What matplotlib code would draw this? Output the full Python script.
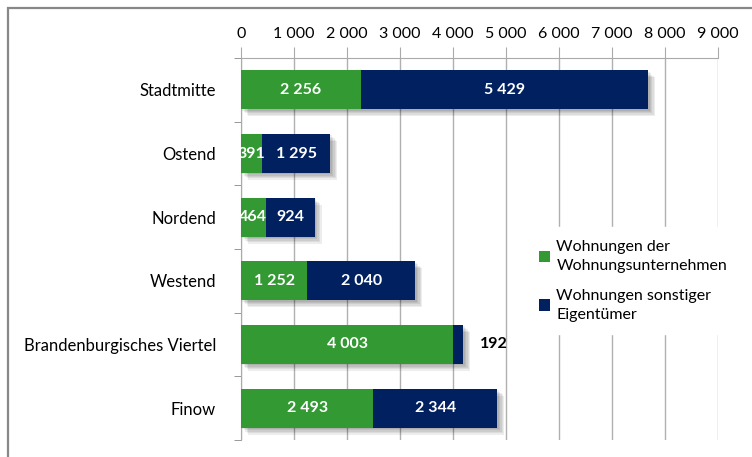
import numpy as np
import matplotlib.pyplot as plt
import matplotlib.patheffects as pe
from matplotlib.patches import Rectangle
from matplotlib.ticker import FuncFormatter

plt.rcParams['font.family'] = ['Lato', 'DejaVu Sans']

districts = ["Stadtmitte", "Ostend", "Nordend", "Westend",
             "Brandenburgisches Viertel", "Finow"]
unternehmen = [2256, 391, 464, 1252, 4003, 2493]
sonstige = [5429, 1295, 924, 2040, 192, 2344]
series_names = ["Wohnungen der\nWohnungsunternehmen",
                "Wohnungen sonstiger\nEigentümer"]

green = "#339933"
navy = "#002060"

def fmt(v):
    return f"{v:,.0f}".replace(",", " ")

fig = plt.figure(figsize=(7.52, 4.57), dpi=100)
ax = fig.add_axes([241 / 752, 1 - 440 / 457, 477 / 752, 382 / 457])

y = np.arange(len(districts))
ax.barh(y, unternehmen, height=0.61, color=green, label=series_names[0], zorder=3)
ax.barh(y, sonstige, left=unternehmen, height=0.61, color=navy, label=series_names[1], zorder=3)

# soft drop shadow under each stacked bar
soft = [pe.SimplePatchShadow(offset=(d, -d), shadow_rgbFace="#000000", alpha=0.07)
        for d in (1, 2, 3, 4, 5)]
for i in range(len(districts)):
    tot = unternehmen[i] + sonstige[i]
    r = Rectangle((0, y[i] - 0.305), tot, 0.61, facecolor="white", edgecolor="none", zorder=2)
    ax.add_patch(r)
    r.set_path_effects(soft)

for i in range(len(districts)):
    u, s = unternehmen[i], sonstige[i]
    ax.text(u / 2, y[i], fmt(u), ha="center", va="center", color="white",
            fontsize=11.5, fontweight="bold", zorder=4)
    if s < 500 and u > 1000:
        ax.text(u + s + 320, y[i], fmt(s), ha="left", va="center", color="black",
                fontsize=11.5, fontweight="bold", zorder=4)
    else:
        ax.text(u + s / 2, y[i], fmt(s), ha="center", va="center", color="white",
                fontsize=11.5, fontweight="bold", zorder=4)

ax.set_xlim(0, 9000)
ax.set_ylim(len(districts) - 0.5, -0.5)
ax.set_xticks(np.arange(0, 9001, 1000))
ax.xaxis.set_major_formatter(FuncFormatter(lambda v, p: fmt(v)))
ax.xaxis.tick_top()
ax.set_yticks(y)
ax.set_yticklabels(districts)
ax.set_yticks(np.arange(-0.5, len(districts), 1), minor=True)
ax.tick_params(axis="y", which="major", length=0, pad=18, labelsize=12)
ax.tick_params(axis="y", which="minor", length=5, color="#888888", direction="out")
ax.tick_params(axis="x", length=8, color="#aaaaaa", pad=4, labelsize=11.5)
ax.grid(axis="x", color="#b0b0b0", linewidth=1, zorder=0)
for side in ["right", "bottom"]:
    ax.spines[side].set_visible(False)
ax.spines["top"].set_color("#aaaaaa")
ax.spines["left"].set_color("#aaaaaa")

leg = ax.legend(loc="upper left", bbox_to_anchor=(518 / 752, 1 - 219 / 457),
                bbox_transform=fig.transFigure, frameon=True,
                facecolor="white", edgecolor="white", framealpha=1, fontsize=11.5,
                handlelength=0.7, handleheight=0.7, handletextpad=0.4,
                labelspacing=1.0, borderpad=0.8)
for t in leg.get_texts():
    t.set_linespacing(1.45)
leg.set_zorder(5)

fig.patches.append(Rectangle((8 / 752, -0.1), 1.2, 1 - 8 / 457 + 0.1, transform=fig.transFigure,
                             fill=False, edgecolor="#888888", linewidth=1.6))

fig.savefig("out.png", dpi=100)
